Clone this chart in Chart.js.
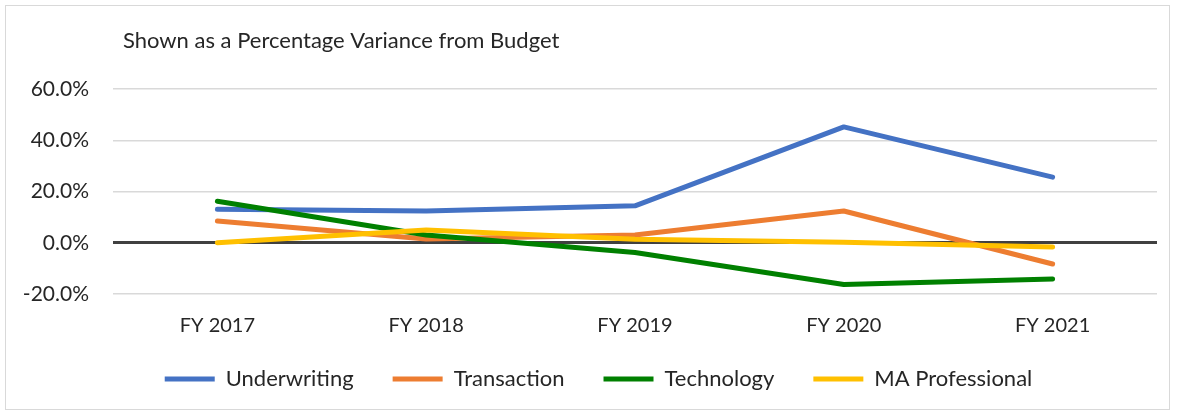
<!DOCTYPE html>
<html lang="en">
<head>
    <meta charset="UTF-8">
    <title>Percentage Variance from Budget</title>
    <script src="https://cdn.jsdelivr.net/npm/chart.js"></script>
    <style>
        body { margin: 0; background: #fff; }
        .box {
            position: absolute;
            left: 5px; top: 5px;
            width: 1163px; height: 403px;
            border: 1px solid #d9d9d9;
        }
    </style>
</head>
<body>
    <div class="box"><canvas id="varChart"></canvas></div>

    <script>
        // data
        const years = ['FY 2017', 'FY 2018', 'FY 2019', 'FY 2020', 'FY 2021'];
        const underwriting = [13.1, 12.4, 14.4, 45.2, 25.6];
        const transaction = [8.5, 1.5, 3.0, 12.4, -8.3];
        const technology = [16.2, 3.0, -3.8, -16.3, -14.1];
        const maProfessional = [0.0, 5.0, 1.4, 0.2, -1.7];
        const yTicks = [-20, 0, 20, 40, 60];
        const titleText = 'Shown as a Percentage Variance from Budget';

        const FONT = 'Lato';
        const TEXT = '#262626';

        // title drawn left aligned near the plot, like the original
        const titlePlugin = {
            id: 'leftTitle',
            afterDraw(chart) {
                const c = chart.ctx;
                c.save();
                c.font = '22px ' + FONT;
                c.fillStyle = TEXT;
                c.textBaseline = 'middle';
                c.textAlign = 'left';
                c.fillText(titleText, 117, 35);
                c.restore();
            }
        };

        // legend padding also sets its vertical offset, so pull it up a bit
        const legendNudge = {
            id: 'legendNudge',
            afterLayout(chart) {
                const lg = chart.legend;
                lg.top -= 9; lg.bottom -= 9;
                lg.left += 12; lg.right += 12;
            }
        };

        function series(label, data, color, order) {
            return {
                label: label,
                data: data,
                borderColor: color,
                backgroundColor: color,
                borderWidth: 5,
                borderCapStyle: 'round',
                borderJoinStyle: 'round',
                pointRadius: 0,
                fill: false,
                order: order
            };
        }

        const ctx = document.getElementById('varChart').getContext('2d');
        const chart = new Chart(ctx, {
            type: 'line',
            data: {
                labels: years,
                datasets: [
                    series('Underwriting', underwriting, '#4472C4', 4),
                    series('Transaction', transaction, '#ED7D31', 3),
                    series('Technology', technology, '#008000', 2),
                    series('MA Professional', maProfessional, '#FFC000', 1)
                ]
            },
            options: {
                responsive: true,
                maintainAspectRatio: false,
                animation: false,
                layout: { padding: { left: 10, right: 12, top: 83, bottom: 0 } },
                plugins: {
                    tooltip: { enabled: false },
                    legend: {
                        position: 'bottom',
                        labels: {
                            usePointStyle: true,
                            pointStyle: 'line',
                            pointStyleWidth: 50,
                            padding: 39,
                            color: TEXT,
                            font: { family: FONT, size: 22 },
                            sort: (a, b) => a.datasetIndex - b.datasetIndex
                        }
                    }
                },
                scales: {
                    x: {
                        offset: true,
                        afterFit(scale) { scale.height = 44; },
                        grid: { display: false, drawTicks: false },
                        border: { display: false },
                        ticks: { color: TEXT, font: { family: FONT, size: 20 }, padding: 20 }
                    },
                    y: {
                        min: -20,
                        max: 60,
                        afterBuildTicks(scale) {
                            scale.ticks = yTicks.map(v => ({ value: v }));
                        },
                        afterFit(scale) { scale.width = 97; },
                        border: { display: false },
                        grid: {
                            drawTicks: false,
                            color: c => c.tick && c.tick.value === 0 ? '#404040' : '#d9d9d9',
                            lineWidth: c => c.tick && c.tick.value === 0 ? 3 : 1.5
                        },
                        ticks: {
                            color: TEXT,
                            padding: 24,
                            font: { family: FONT, size: 21 },
                            callback: v => v.toFixed(1) + '%'
                        }
                    }
                }
            },
            plugins: [titlePlugin, legendNudge]
        });
    </script>
</body>
</html>
